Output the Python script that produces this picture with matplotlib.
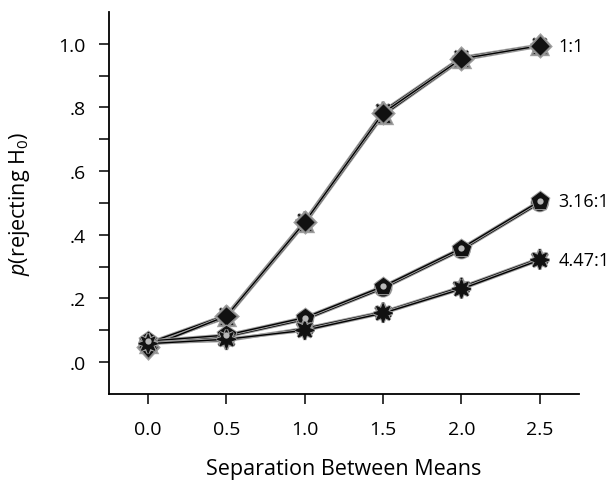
import numpy as np
import matplotlib.pyplot as plt
import matplotlib.patheffects as pe

plt.rcParams['font.family'] = ['Open Sans', 'DejaVu Sans']
plt.rcParams['mathtext.fontset'] = 'custom'
plt.rcParams['mathtext.rm'] = 'Open Sans'
plt.rcParams['mathtext.it'] = 'Open Sans:italic'

sep = [0.0, 0.5, 1.0, 1.5, 2.0, 2.5]

# ratio 1:1 (several overlapping conditions)
r1_a = [0.047, 0.145, 0.440, 0.783, 0.953, 0.994]
r1_b = [0.055, 0.140, 0.435, 0.776, 0.950, 0.993]
r1_c = [0.060, 0.148, 0.444, 0.789, 0.957, 0.996]
# ratio 3.16:1
r3_a = [0.066, 0.085, 0.140, 0.238, 0.358, 0.506]
r3_b = [0.062, 0.080, 0.134, 0.232, 0.352, 0.500]
# ratio 4.47:1
r4_a = [0.058, 0.072, 0.100, 0.154, 0.230, 0.321]
r4_b = [0.061, 0.068, 0.106, 0.158, 0.236, 0.326]

labels = ['1:1', '3.16:1', '4.47:1']

fig = plt.figure(figsize=(6.11, 4.85), dpi=100)
ax = fig.add_axes([0.1784, 0.1856, 0.7692, 0.7876])

line_fx = [pe.Stroke(linewidth=2.4, foreground='#a0a0a0'), pe.Normal()]

def series(y, marker, ms, edge='#8a8a8a'):
    ax.plot(sep, y, color='black', lw=1.0, marker=marker, ms=ms,
            mfc='#111111', mec=edge, mew=0.9, path_effects=line_fx)

series(r1_b, '^', 11)
series(r1_c, (8, 1, 0), 13, edge='#111111')
series(r1_a, 'D', 10.5)
series(r3_b, 'o', 11, edge='#111111')
series(r3_a, 'p', 12.5, edge='#111111')
series(r4_b, (6, 1, 0), 13, edge='#111111')
series(r4_a, (8, 1, 0), 13.5, edge='#111111')

# gloss highlight on round markers
ax.plot(sep, r3_a, ls='none', marker='o', ms=4.5, mfc='#b8b8b8', mec='none')

ends = [r1_a[-1], r3_a[-1], r4_a[-1]]
for lab, yv in zip(labels, ends):
    ax.text(sep[-1] + 0.12, yv, lab, fontsize=13, va='center', ha='left')

ax.set_xlim(-0.25, 2.75)
ax.set_ylim(-0.1, 1.1)
ax.set_xticks(sep)
ax.set_xticklabels(['0.0', '0.5', '1.0', '1.5', '2.0', '2.5'])
ax.set_yticks([0.0, 0.2, 0.4, 0.6, 0.8, 1.0])
ax.set_yticklabels(['.0', '.2', '.4', '.6', '.8', '1.0'])
ax.set_yticks([0.1, 0.3, 0.5, 0.7, 0.9], minor=True)
ax.tick_params(axis='both', direction='out', length=7, width=1.1,
               labelsize=14)
ax.tick_params(axis='y', which='minor', direction='out', length=7, width=1.1)
ax.tick_params(axis='x', pad=12)
ax.tick_params(axis='y', pad=10)
for s in ['top', 'right']:
    ax.spines[s].set_visible(False)
for s in ['left', 'bottom']:
    ax.spines[s].set_linewidth(1.3)

ax.set_xlabel('Separation Between Means', fontsize=15.5, labelpad=14)
ax.set_ylabel(r'$p$(rejecting H$_0$)', fontsize=15.5, labelpad=19)

fig.savefig('out.png', dpi=100)
